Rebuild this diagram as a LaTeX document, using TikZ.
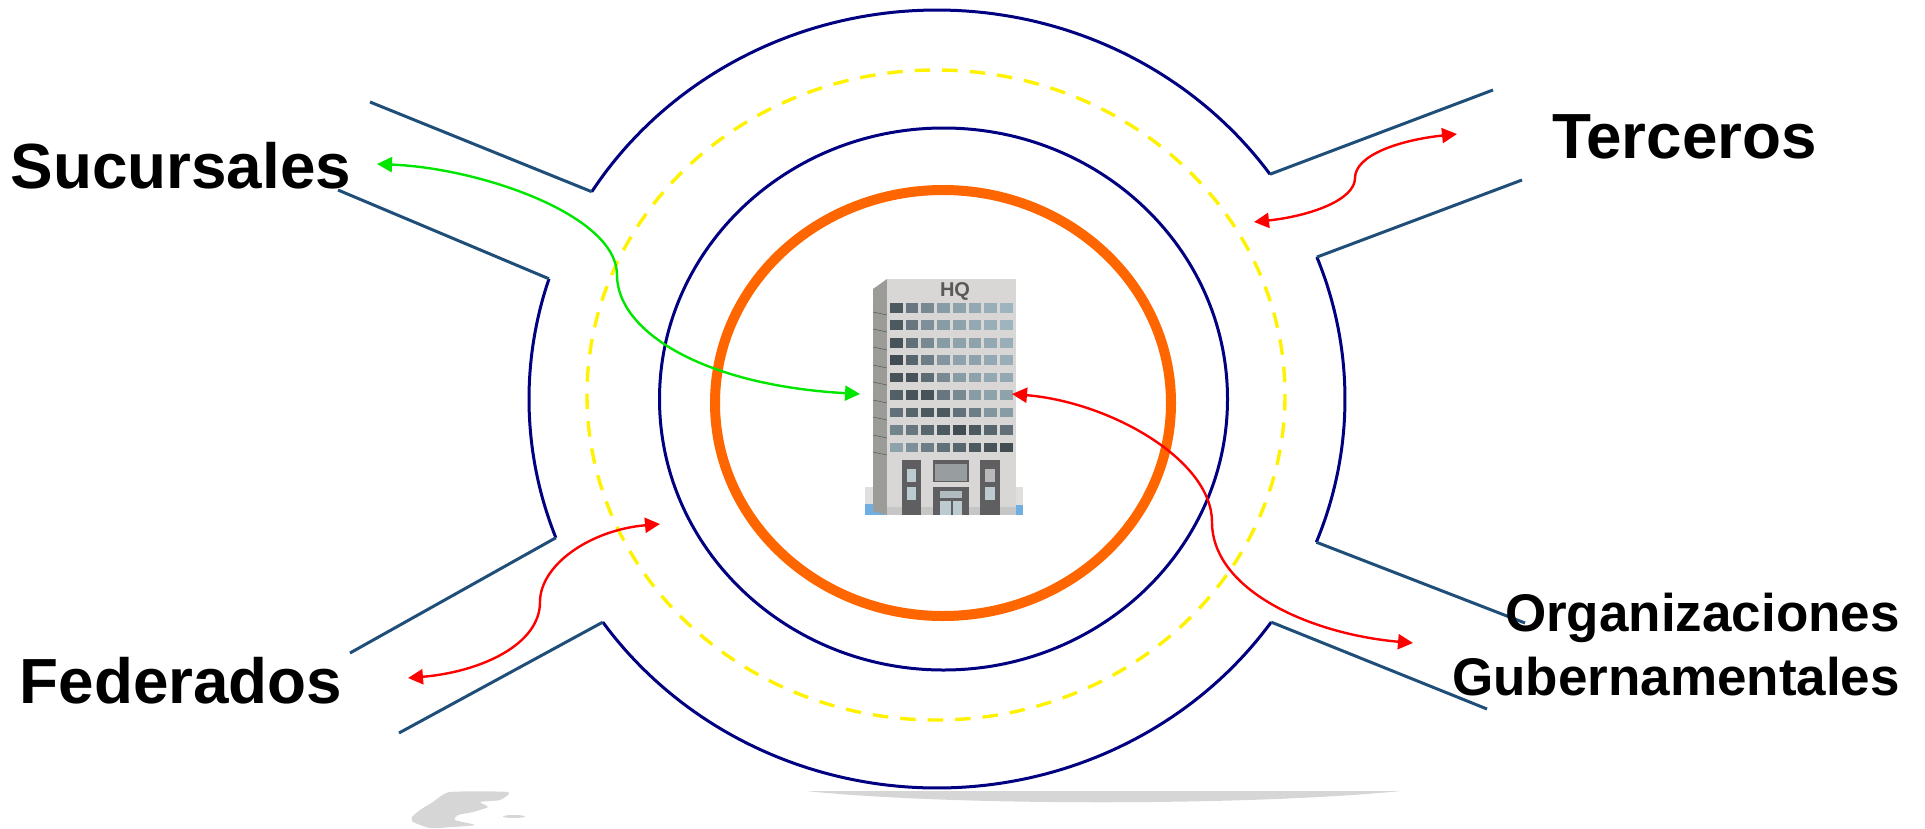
\documentclass[tikz,border=0pt]{standalone}
\usepackage{fontspec}
\setmainfont{Liberation Sans}
\usetikzlibrary{arrows.meta}
\definecolor{navyring}{HTML}{000080}
\definecolor{roadline}{HTML}{1F4E79}
\definecolor{ringorange}{HTML}{FF6600}
\definecolor{dashyellow}{HTML}{FFF200}
\definecolor{linkred}{HTML}{FF0000}
\definecolor{linkgreen}{HTML}{00E600}
\definecolor{winD}{HTML}{3C474C}
\definecolor{winL}{HTML}{A9C0CC}
\definecolor{facefront}{HTML}{D9D7D6}
\definecolor{faceside}{HTML}{9B9B97}
\definecolor{doorgrey}{HTML}{5F5F62}
\definecolor{doorglass}{HTML}{BCCBD0}
\definecolor{groundblue}{HTML}{6FAEE0}
\definecolor{blobgrey}{HTML}{D6D6D6}
\tikzset{
  ringline/.style={draw=navyring,line width=3pt},
  roadedge/.style={draw=roadline,line width=3pt},
  redlink/.style={draw=linkred,line width=2.4pt,{Triangle[length=15pt,width=15pt]}-{Triangle[length=15pt,width=15pt]}},
  greenlink/.style={draw=linkgreen,line width=2.4pt,{Triangle[length=15pt,width=15pt]}-{Triangle[length=15pt,width=15pt]}},
  biglabel/.style={inner sep=0pt,font=\fontsize{63.8}{70}\selectfont\bfseries},
  medlabel/.style={inner sep=0pt,align=right,font=\fontsize{53}{64}\selectfont\bfseries},
}
\begin{document}
\begin{tikzpicture}[x=1pt,y=-1pt]
\useasboundingbox (0,0) rectangle (1925,828);
% corners of the outer ring
\def\cx{937}\def\cy{399}\def\rx{408}\def\ry{389}
\coordinate (cTL) at ({\cx+\rx*cos(-147.8)},{\cy+\ry*sin(-147.8)});
\coordinate (cTR) at ({\cx+\rx*cos(-35.3)},{\cy+\ry*sin(-35.3)});
\coordinate (cRT) at ({\cx+\rx*cos(-21.4)},{\cy+\ry*sin(-21.4)});
\coordinate (cRB) at ({\cx+\rx*cos(21.6)},{\cy+\ry*sin(21.6)});
\coordinate (cBR) at ({\cx+\rx*cos(35)},{\cy+\ry*sin(35)});
\coordinate (cBL) at ({\cx+\rx*cos(145)},{\cy+\ry*sin(145)});
\coordinate (cLB) at ({\cx+\rx*cos(159.1)},{\cy+\ry*sin(159.1)});
\coordinate (cLT) at ({\cx+\rx*cos(198)},{\cy+\ry*sin(198)});
% road ends
\coordinate (eTLa) at (370,102);
\coordinate (eTLb) at (338,190);
\coordinate (eTRa) at (1493,90);
\coordinate (eTRb) at (1522,180);
\coordinate (eBRa) at (1525,623);
\coordinate (eBRb) at (1487,709);
\coordinate (eBLa) at (350,653);
\coordinate (eBLb) at (399,733);
% shadows at the foot
\fill[blobgrey] plot[smooth cycle,tension=.35] coordinates {(450,792) (508,792) (500,800) (480,802) (488,807) (473,812) (458,815) (455,820) (475,825) (453,827) (430,828) (413,822) (412,817) (420,810) (433,802)};
\fill[blobgrey] (514,816.5) ellipse [x radius=11,y radius=1.5];
\fill[blobgrey] (806,791) .. controls (950,806) and (1250,806) .. (1401,791) -- cycle;
% outer ring arcs
\draw[ringline] plot[domain=-147.8:-35.3,samples=90] ({\cx+\rx*cos(\x)},{\cy+\ry*sin(\x)});
\draw[ringline] plot[domain=-21.4:21.6,samples=40] ({\cx+\rx*cos(\x)},{\cy+\ry*sin(\x)});
\draw[ringline] plot[domain=35:145,samples=90] ({\cx+\rx*cos(\x)},{\cy+\ry*sin(\x)});
\draw[ringline] plot[domain=159.1:198,samples=40] ({\cx+\rx*cos(\x)},{\cy+\ry*sin(\x)});
% roads
\draw[roadedge] (eTLa) -- (cTL);
\draw[roadedge] (eTLb) -- (cLT);
\draw[roadedge] (eTRa) -- (cTR);
\draw[roadedge] (eTRb) -- (cRT);
\draw[roadedge] (eBRa) -- (cRB);
\draw[roadedge] (eBRb) -- (cBR);
\draw[roadedge] (eBLa) -- (cLB);
\draw[roadedge] (eBLb) -- (cBL);
% rings
\draw[draw=dashyellow,line width=3.4pt,dash pattern=on 15.5pt off 12pt] (936,395) ellipse [x radius=349,y radius=325];
\draw[ringline] (943.5,399) ellipse [x radius=284,y radius=271];
\draw[draw=ringorange,line width=10pt] (943,403) ellipse [x radius=228,y radius=213];
% building
\fill[gray!25] (865,487) rectangle (1023,515);
\fill[groundblue] (865,504) rectangle (885,515);
\fill[groundblue] (1016,505) rectangle (1023,515);
\fill[faceside] (873,289) -- (887,279) -- (887,515) -- (873,511) -- cycle;
\foreach \yy in {315,332,350,368,385,403,420,438,455}
  \draw[gray!70!black,line width=.5pt] (873,\yy-3) -- (887,\yy);
\fill[facefront] (887,279) rectangle (1016,515);
\fill[gray!45] (887,507) rectangle (1016,515);
\foreach \row [count=\r from 0] in {
  {85,60,45,30,25,20,15,10},
  {85,60,40,30,25,20,15,10},
  {90,65,45,30,25,25,20,15},
  {95,75,55,35,25,25,20,15},
  {90,90,70,45,30,25,20,20},
  {80,90,90,60,45,30,25,25},
  {65,75,85,85,65,55,35,30},
  {50,60,75,85,95,85,75,65},
  {25,40,55,65,75,85,90,95}}{
  \foreach \d [count=\c from 0] in \row {
    \fill[winD!\d!winL] ({889.8+\c*15.75},{303+\r*17.45}) rectangle ++(12.8,9.6);
  }
}
% doors
\fill[doorgrey] (902,460) rectangle (921,515);
\fill[doorgrey] (980,460) rectangle (1000,515);
\fill[doorgrey] (933,460) rectangle (969,482);
\fill[doorgrey] (933,487) rectangle (969,515);
\fill[gray!60!doorglass] (935,464) rectangle (967,481);
\fill[doorglass] (907,469) rectangle (916,482);
\fill[doorglass] (907,487) rectangle (916,500);
\fill[gray!55] (985,469) rectangle (995,482);
\fill[doorglass] (985,487) rectangle (995,500);
\fill[doorglass] (940,501) rectangle (951,515);
\fill[doorglass] (953,501) rectangle (962,515);
\fill[doorglass!80!gray] (940,491) rectangle (962,498);
\node[inner sep=0pt,text=black!65,font=\fontsize{20}{22}\selectfont\bfseries] (hq) at (955,291) {HQ};
% connector ends
\coordinate (tSuc) at (377,164);
\coordinate (mSuc) at (617,275);
\coordinate (hqW) at (860,394);
\coordinate (hqE) at (1012,394);
\coordinate (mGub) at (1212,522);
\coordinate (tGub) at (1413,643);
\coordinate (tTerA) at (1254,222);
\coordinate (mTer) at (1355,178);
\coordinate (tTerB) at (1457,134);
\coordinate (tFedA) at (408,678);
\coordinate (mFed) at (540,602);
\coordinate (tFedB) at (660,524);
\draw[greenlink] (tSuc) .. controls (480,168) and (617,215) .. (mSuc) .. controls (617,330) and (700,385) .. (hqW);
\draw[redlink] (hqE) .. controls (1110,402) and (1212,460) .. (mGub) .. controls (1212,590) and (1310,634) .. (tGub);
\draw[redlink] (tTerA) .. controls (1310,216) and (1355,200) .. (mTer) .. controls (1355,155) and (1400,140) .. (tTerB);
\draw[redlink] (tFedA) .. controls (480,672) and (540,645) .. (mFed) .. controls (540,565) and (590,530) .. (tFedB);
% labels
\node[biglabel,anchor=base west] (suc) at (10.5,188) {Sucursales};
\node[biglabel,anchor=base west] (ter) at (1552,158) {Terceros};
\node[biglabel,anchor=base west] (fed) at (19.5,703) {Federados};
\node[medlabel,anchor=base east] (gub) at (1900,695) {Organizaciones\\Gubernamentales};
\end{tikzpicture}
\end{document}
